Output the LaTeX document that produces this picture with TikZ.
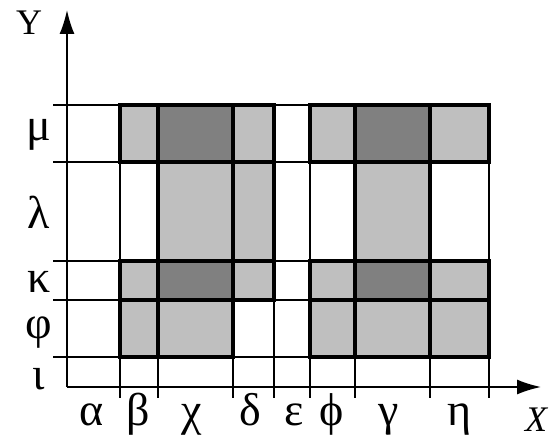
\documentclass[tikz,border=0pt]{standalone}
\usepackage{fontspec}
\setmainfont{Liberation Serif}
\usetikzlibrary{arrows.meta}
\tikzset{
  gridline/.style={black, line width=1.6pt},
  setline/.style={black, line width=4.5pt},
  onecell/.style={fill=black!25},
  twocell/.style={fill=black!50},
  lab/.style={font=\fontsize{46}{46}\selectfont, inner sep=0pt, anchor=base},
  axlab/.style={font=\fontsize{36}{36}\selectfont, inner sep=0pt, anchor=base},
}
\begin{document}
\begin{tikzpicture}[x=1pt,y=-1pt]
    \useasboundingbox (0,0) rectangle (553,443);
    % Light cells
    \fill[onecell] (120,105) rectangle (274,162);
    \fill[onecell] (158,162) rectangle (274,261);
    \fill[onecell] (120,261) rectangle (274,300);
    \fill[onecell] (120,300) rectangle (233,357);
    \fill[onecell] (310,105) rectangle (489,162);
    \fill[onecell] (355,162) rectangle (430,261);
    \fill[onecell] (310,261) rectangle (489,357);
    % Dark cells (overlap)
    \foreach \a/\b in {158/233,355/430}
    {
    \fill[twocell] (\a,105) rectangle (\b,162);
    \fill[twocell] (\a,261) rectangle (\b,300);
    }
    
    % Thin grid
    \foreach \y in {105,162,261,300,357}
    \draw[gridline] (53,\y) -- (489,\y);
    \foreach \x in {120,158,233,274,310,355,430,489}
    \draw[gridline] (\x,105) -- (\x,398);
    
    % Thick outlines of the sets
    \draw[setline] (120,105) rectangle (274,162);
    \draw[setline] (120,261) rectangle (274,300);
    \draw[setline] (158,105) rectangle (233,357);
    \draw[setline] (233,105) rectangle (274,300);
    \draw[setline] (120,300) rectangle (233,357);
    \draw[setline] (310,105) rectangle (489,162);
    \draw[setline] (310,261) rectangle (489,300);
    \draw[setline] (310,300) rectangle (489,357);
    \draw[setline] (355,105) rectangle (430,357);
    
    % Axes
    \coordinate (O) at (67,387);
    \coordinate (xend) at (541,387);
    \coordinate (yend) at (67,10);
    \draw[gridline,-{Latex[length=24pt,width=15pt]}] (O) -- (xend);
    \draw[gridline,-{Latex[length=24pt,width=15pt]}] (O) -- (yend);
    \node[axlab] (ylab) at (29,35) {Y};
    \node[axlab] (xlab) at (536,431) {\itshape X};
    
    % Column labels
    \foreach \x/\t/\n in {92/α/a,138/β/b,192/χ/c,250/δ/d,294/ε/e,332/ϕ/f,389/γ/g,460/η/h}
    \node[lab] (col\n) at (\x,425) {\t};
    
    % Row labels
    \foreach \y/\t/\n in {141/μ/a,229/λ/b,292/κ/c,338/φ/d,389/ι/e}
    \node[lab] (row\n) at (39,\y) {\t};
\end{tikzpicture}
\end{document}
